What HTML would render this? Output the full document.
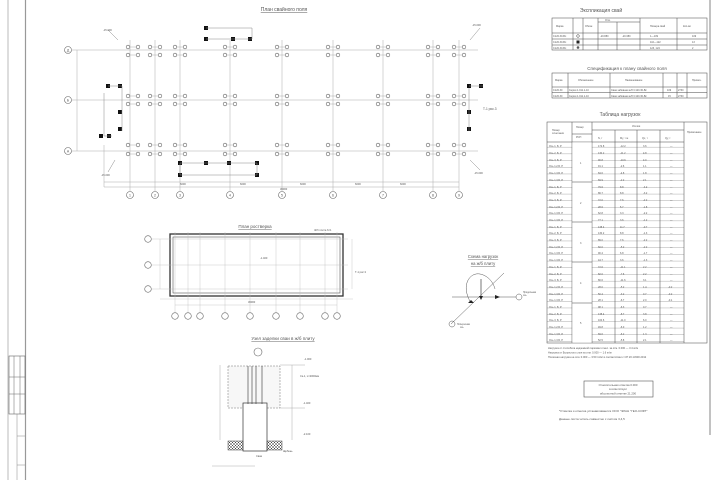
<!DOCTYPE html>
<html><head><meta charset="utf-8"><style>
html,body{margin:0;padding:0;background:#fff;}
svg{display:block;font-family:"Liberation Sans",sans-serif;}
text{fill:#555;}
</style></head><body>
<svg width="720" height="480" viewBox="0 0 720 480" xmlns="http://www.w3.org/2000/svg">
<defs>
<g id="pp"><circle cx="-5" cy="0" r="1.8" fill="none" stroke="#666" stroke-width="0.6"/><circle cx="5" cy="0" r="1.8" fill="none" stroke="#666" stroke-width="0.6"/><line x1="-3" y1="0" x2="3" y2="0" stroke="#999" stroke-width="0.4"/></g>
<pattern id="rows" width="10" height="6.7" patternUnits="userSpaceOnUse"><line x1="0" y1="6.7" x2="10" y2="6.7" stroke="#555" stroke-width="0.5"/></pattern>
<pattern id="hatch" width="3" height="3" patternUnits="userSpaceOnUse"><path d="M0 3L3 0M0 0L3 3" stroke="#444" stroke-width="0.5"/></pattern>
</defs>
<rect width="720" height="480" fill="#fff"/>
<!-- frame -->
<line x1="8" y1="0" x2="8" y2="480" stroke="#bbb" stroke-width="1"/>
<line x1="25.5" y1="0" x2="25.5" y2="480" stroke="#999" stroke-width="1.2"/>
<line x1="710" y1="0" x2="710" y2="435" stroke="#999" stroke-width="1.2"/>
<rect x="9" y="356" width="16" height="58" fill="none" stroke="#666" stroke-width="0.6"/>
<line x1="14" y1="356" x2="14" y2="414" stroke="#666" stroke-width="0.5"/><line x1="20" y1="356" x2="20" y2="414" stroke="#666" stroke-width="0.5"/>
<line x1="9" y1="377" x2="25" y2="377" stroke="#666" stroke-width="0.5"/><line x1="9" y1="394" x2="25" y2="394" stroke="#666" stroke-width="0.5"/>
<line x1="17" y1="414" x2="17" y2="480" stroke="#888" stroke-width="0.5"/>
<line x1="17" y1="436" x2="25" y2="436" stroke="#888" stroke-width="0.5"/><line x1="17" y1="465" x2="25" y2="465" stroke="#888" stroke-width="0.5"/>

<!-- PILE FIELD PLAN -->
<text x="284" y="11" font-size="5" text-anchor="middle" text-decoration="underline">План свайного поля</text>
<g stroke="#aaa" stroke-width="0.5">
<line x1="72" y1="50" x2="478" y2="50"/><line x1="72" y1="100" x2="478" y2="100"/><line x1="72" y1="151" x2="478" y2="151"/>
<line x1="130" y1="40" x2="130" y2="191"/><line x1="155" y1="40" x2="155" y2="191"/><line x1="180" y1="40" x2="180" y2="191"/><line x1="230" y1="40" x2="230" y2="191"/><line x1="282" y1="40" x2="282" y2="191"/><line x1="333" y1="40" x2="333" y2="191"/><line x1="383" y1="40" x2="383" y2="191"/><line x1="433" y1="40" x2="433" y2="191"/><line x1="459" y1="40" x2="459" y2="191"/>
<line x1="77" y1="50" x2="77" y2="151"/><line x1="104" y1="182" x2="459" y2="182"/><line x1="104" y1="187" x2="459" y2="187"/>
<line x1="104" y1="145" x2="104" y2="187"/>
</g>
<g fill="none" stroke="#666" stroke-width="0.6">
<circle cx="68" cy="50" r="3.5"/><circle cx="68" cy="100" r="3.5"/><circle cx="68" cy="151" r="3.5"/>
<circle cx="130" cy="195" r="3.5"/><circle cx="155" cy="195" r="3.5"/><circle cx="180" cy="195" r="3.5"/><circle cx="230" cy="195" r="3.5"/><circle cx="282" cy="195" r="3.5"/><circle cx="333" cy="195" r="3.5"/><circle cx="383" cy="195" r="3.5"/><circle cx="433" cy="195" r="3.5"/><circle cx="459" cy="195" r="3.5"/>
</g>
<g font-size="3.5" text-anchor="middle">
<text x="68" y="51.5">Д</text><text x="68" y="101.5">Б</text><text x="68" y="152.5">А</text>
<text x="130" y="196.5">1</text><text x="155" y="196.5">2</text><text x="180" y="196.5">3</text><text x="230" y="196.5">4</text><text x="282" y="196.5">5</text><text x="333" y="196.5">6</text><text x="383" y="196.5">7</text><text x="433" y="196.5">8</text><text x="459" y="196.5">9</text>
</g>
<g>
<use href="#pp" x="133" y="47"/><use href="#pp" x="133" y="55"/><use href="#pp" x="155" y="47"/><use href="#pp" x="155" y="55"/><use href="#pp" x="180" y="47"/><use href="#pp" x="180" y="55"/><use href="#pp" x="230" y="47"/><use href="#pp" x="230" y="55"/><use href="#pp" x="282" y="47"/><use href="#pp" x="282" y="55"/><use href="#pp" x="333" y="47"/><use href="#pp" x="333" y="55"/><use href="#pp" x="383" y="47"/><use href="#pp" x="383" y="55"/><use href="#pp" x="433" y="47"/><use href="#pp" x="433" y="55"/><use href="#pp" x="459" y="47"/><use href="#pp" x="459" y="55"/>
<use href="#pp" x="133" y="96"/><use href="#pp" x="133" y="104"/><use href="#pp" x="155" y="96"/><use href="#pp" x="155" y="104"/><use href="#pp" x="180" y="96"/><use href="#pp" x="180" y="104"/><use href="#pp" x="230" y="96"/><use href="#pp" x="230" y="104"/><use href="#pp" x="282" y="96"/><use href="#pp" x="282" y="104"/><use href="#pp" x="333" y="96"/><use href="#pp" x="333" y="104"/><use href="#pp" x="383" y="96"/><use href="#pp" x="383" y="104"/><use href="#pp" x="433" y="96"/><use href="#pp" x="433" y="104"/><use href="#pp" x="459" y="96"/><use href="#pp" x="459" y="104"/>
<use href="#pp" x="133" y="145"/><use href="#pp" x="133" y="154"/><use href="#pp" x="155" y="145"/><use href="#pp" x="155" y="154"/><use href="#pp" x="180" y="145"/><use href="#pp" x="180" y="154"/><use href="#pp" x="230" y="145"/><use href="#pp" x="230" y="154"/><use href="#pp" x="282" y="145"/><use href="#pp" x="282" y="154"/><use href="#pp" x="333" y="145"/><use href="#pp" x="333" y="154"/><use href="#pp" x="383" y="145"/><use href="#pp" x="383" y="154"/><use href="#pp" x="433" y="145"/><use href="#pp" x="433" y="154"/><use href="#pp" x="459" y="145"/><use href="#pp" x="459" y="154"/>
</g>
<g fill="#111">
<rect x="204" y="26" width="4" height="4"/><rect x="204" y="37" width="4" height="4"/><rect x="231" y="37" width="4" height="4"/><rect x="248" y="37" width="4" height="4"/>
<rect x="106" y="84" width="4" height="4"/><rect x="118" y="84" width="4" height="4"/><rect x="118" y="110" width="4" height="4"/><rect x="118" y="127" width="4" height="4"/><rect x="99" y="134" width="4" height="4"/><rect x="107" y="134" width="4" height="4"/>
<rect x="178" y="161" width="4" height="4"/><rect x="204" y="161" width="4" height="4"/><rect x="227" y="161" width="4" height="4"/><rect x="255" y="161" width="4" height="4"/><rect x="178" y="173" width="4" height="4"/><rect x="255" y="173" width="4" height="4"/>
<rect x="467" y="84" width="4" height="4"/><rect x="479" y="84" width="4" height="4"/><rect x="467" y="110" width="4" height="4"/><rect x="467" y="127" width="4" height="4"/>
</g>
<g stroke="#888" stroke-width="0.5" fill="none">
<path d="M206 28H252V39M206 39H252"/><path d="M108 86H122V131M104 93V136H112"/><path d="M180 163H257V175H180Z"/><path d="M469 86H483M469 88V131"/>
<path d="M118 40L108 30M470 40L480 28M115 160L108 172M470 160L480 170"/>
</g>
<g font-size="2.6" fill="#666">
<text x="103" y="31">-15.000</text><text x="472" y="26">-15.000</text><text x="101" y="176">-15.000</text><text x="474" y="174">-15.000</text>
<text x="180" y="185">6000</text><text x="240" y="185">6000</text><text x="300" y="185">6000</text><text x="355" y="185">6000</text><text x="400" y="185">6000</text><text x="280" y="190">36000</text>
<text x="483" y="110" font-size="3.2">Т-1 рис.3</text>
</g>

<!-- ROSTVERK PLAN -->
<text x="255" y="228" font-size="4.5" text-anchor="middle" text-decoration="underline">План ростверка</text>
<rect x="170" y="234" width="173" height="62" fill="none" stroke="#333" stroke-width="1.3"/>
<rect x="173" y="237" width="167" height="56" fill="none" stroke="#555" stroke-width="0.6"/>
<g stroke="#bbb" stroke-width="0.4">
<line x1="152" y1="239" x2="348" y2="239"/><line x1="152" y1="265" x2="348" y2="265"/><line x1="152" y1="289" x2="348" y2="289"/>
<line x1="175" y1="232" x2="175" y2="312"/><line x1="188" y1="232" x2="188" y2="312"/><line x1="200" y1="232" x2="200" y2="312"/><line x1="225" y1="232" x2="225" y2="312"/><line x1="250" y1="232" x2="250" y2="312"/><line x1="276" y1="232" x2="276" y2="312"/><line x1="300" y1="232" x2="300" y2="312"/><line x1="325" y1="232" x2="325" y2="312"/><line x1="337" y1="232" x2="337" y2="312"/>
<line x1="160" y1="299" x2="353" y2="299"/><line x1="175" y1="305" x2="337" y2="305"/><line x1="160" y1="239" x2="160" y2="289"/><line x1="352" y1="239" x2="352" y2="289"/>
</g>
<g fill="none" stroke="#666" stroke-width="0.6">
<circle cx="148" cy="239" r="3.3"/><circle cx="148" cy="265" r="3.3"/><circle cx="148" cy="289" r="3.3"/>
<circle cx="175" cy="316" r="3.3"/><circle cx="188" cy="316" r="3.3"/><circle cx="200" cy="316" r="3.3"/><circle cx="225" cy="316" r="3.3"/><circle cx="250" cy="316" r="3.3"/><circle cx="276" cy="316" r="3.3"/><circle cx="300" cy="316" r="3.3"/><circle cx="325" cy="316" r="3.3"/><circle cx="337" cy="316" r="3.3"/>
</g>
<g font-size="2.6" fill="#666">
<text x="260" y="259">-1.400</text><text x="314" y="231">Ж/б плита δ=1</text><text x="355" y="273">Т-1 рис.3</text><text x="248" y="303">36000</text>
</g>

<!-- NODE -->
<text x="283" y="340" font-size="4.5" text-anchor="middle" text-decoration="underline">Узел заделки сваи в ж/б плиту</text>
<circle cx="258" cy="352" r="4" fill="none" stroke="#666" stroke-width="0.6"/>
<rect x="228" y="366" width="52" height="42" fill="#f7f7f7" stroke="#777" stroke-width="0.5" stroke-dasharray="2 1"/>
<rect x="243" y="403" width="24" height="48" fill="#fff" stroke="#333" stroke-width="0.7"/>
<line x1="248" y1="366" x2="248" y2="404" stroke="#333" stroke-width="0.6"/><line x1="252" y1="366" x2="252" y2="404" stroke="#333" stroke-width="0.6"/><line x1="256" y1="366" x2="256" y2="404" stroke="#333" stroke-width="0.6"/><line x1="262" y1="366" x2="262" y2="404" stroke="#333" stroke-width="0.6"/>
<rect x="228" y="441" width="15" height="9" fill="url(#hatch)" stroke="#444" stroke-width="0.5"/>
<rect x="267" y="441" width="15" height="9" fill="url(#hatch)" stroke="#444" stroke-width="0.5"/>
<g stroke="#999" stroke-width="0.4"><line x1="220" y1="365" x2="220" y2="440"/><line x1="292" y1="365" x2="292" y2="440"/><line x1="212" y1="466" x2="255" y2="466"/><line x1="280" y1="365" x2="305" y2="365"/><line x1="280" y1="408" x2="305" y2="408"/></g>
<g font-size="2.6" fill="#666"><text x="304" y="360">-1.000</text><text x="300" y="377">Ск-1, L=2000мм</text><text x="303" y="404">-1.400</text><text x="303" y="435">-2.100</text><text x="283" y="452">Щебень</text><text x="256" y="457">Свая</text></g>

<!-- LOAD SCHEME -->
<text x="483" y="258" font-size="4.2" text-anchor="middle" text-decoration="underline">Схема нагрузок</text>
<text x="483" y="265" font-size="4.2" text-anchor="middle" text-decoration="underline">на ж/б плиту</text>
<g stroke="#555" stroke-width="0.5" fill="none">
<line x1="452" y1="297" x2="516" y2="297"/><line x1="451" y1="324" x2="504" y2="273"/>
<path d="M471 303C460 285 470 272 480 274C490 276 494 285 495 289"/>
<line x1="481" y1="279" x2="481" y2="299" stroke-width="0.8"/>
<circle cx="519" cy="297" r="3"/><circle cx="452" cy="324" r="3"/>
</g>
<path d="M479 296L483 296L481 300Z M495 295L500 297L495 299Z M471 300L468 303L474 303Z" fill="#222"/>
<g font-size="2.3" fill="#666"><text x="523" y="293">Продольная</text><text x="523" y="296">ось</text><text x="457" y="325">Поперечная</text><text x="460" y="328">ось</text></g>

<!-- RIGHT TABLES -->
<text x="601" y="12" font-size="5" text-anchor="middle">Экспликация свай</text>
<g stroke="#444" stroke-width="0.5" fill="none">
<rect x="552" y="18" width="155" height="32"/>
<line x1="552" y1="33" x2="707" y2="33"/><line x1="552" y1="39" x2="707" y2="39"/><line x1="552" y1="45" x2="707" y2="45"/>
<line x1="573" y1="18" x2="573" y2="50"/><line x1="583" y1="18" x2="583" y2="50"/><line x1="598" y1="18" x2="598" y2="50"/><line x1="617" y1="22" x2="617" y2="50"/><line x1="640" y1="18" x2="640" y2="50"/><line x1="677" y1="18" x2="677" y2="50"/><line x1="598" y1="22" x2="640" y2="22"/>
</g>
<g font-size="2.5" fill="#555"><text x="556" y="27">Марка</text><text x="585" y="27">Обозн</text><text x="605" y="21">Отм.</text><text x="650" y="27">Номера свай</text><text x="683" y="27">Кол-во</text>
<text x="553" y="37">С120.30-Вс</text><text x="600" y="37">-20.880</text><text x="622" y="37">-20.380</text><text x="650" y="37">1—109</text><text x="692" y="37">109</text>
<text x="553" y="43">С120.30-Вс</text><text x="650" y="43">110—122</text><text x="692" y="43">13</text>
<text x="553" y="49">С120.30-Вс</text><text x="650" y="49">123, 124</text><text x="692" y="49">2</text></g>
<circle cx="578" cy="36" r="1.3" fill="none" stroke="#333" stroke-width="0.5"/><rect x="576.5" y="40.5" width="3" height="3" fill="#222"/><circle cx="578" cy="47.5" r="1.3" fill="#555"/>

<text x="627" y="70" font-size="4.5" text-anchor="middle">Спецификация к плану свайного поля</text>
<g stroke="#444" stroke-width="0.5" fill="none">
<rect x="552" y="73" width="155" height="25"/><line x1="552" y1="87" x2="707" y2="87"/><line x1="552" y1="92.5" x2="707" y2="92.5"/>
<line x1="568" y1="73" x2="568" y2="98"/><line x1="610" y1="73" x2="610" y2="98"/><line x1="663" y1="73" x2="663" y2="98"/><line x1="677" y1="73" x2="677" y2="98"/><line x1="687" y1="73" x2="687" y2="98"/>
</g>
<g font-size="2.5" fill="#555"><text x="555" y="81">Марка</text><text x="578" y="81">Обозначение</text><text x="625" y="81">Наименование</text><text x="692" y="81">Примеч.</text>
<text x="553" y="91">С120.30</text><text x="569" y="91">Серия 1.011.1-10</text><text x="611" y="91">Свая забивная ж/б С120.30-Вс</text><text x="667" y="91">109</text><text x="678" y="91">2730</text>
<text x="553" y="97">С120.30</text><text x="569" y="97">Серия 1.011.1-10</text><text x="611" y="97">Свая забивная ж/б С120.30-Вс</text><text x="668" y="97">15</text><text x="678" y="97">2730</text></g>

<text x="620" y="116" font-size="5" text-anchor="middle">Таблица нагрузок</text>
<rect x="547" y="142" width="137" height="201" fill="url(#rows)"/>
<g stroke="#444" stroke-width="0.5" fill="none">
<rect x="547" y="122" width="160" height="221"/><line x1="547" y1="142" x2="684" y2="142"/><line x1="592" y1="130" x2="684" y2="130"/><line x1="572" y1="134" x2="592" y2="134"/>
<line x1="572" y1="122" x2="572" y2="343"/><line x1="592" y1="122" x2="592" y2="343"/><line x1="615" y1="130" x2="615" y2="343"/><line x1="637" y1="130" x2="637" y2="343"/><line x1="660" y1="130" x2="660" y2="343"/><line x1="684" y1="122" x2="684" y2="343"/>
</g>
<rect x="572.3" y="142.3" width="19.4" height="200.4" fill="#fff"/>
<g stroke="#444" stroke-width="0.5"><line x1="572" y1="182" x2="592" y2="182"/><line x1="572" y1="222" x2="592" y2="222"/><line x1="572" y1="262" x2="592" y2="262"/><line x1="572" y1="303" x2="592" y2="303"/></g>
<g font-size="2.5" fill="#555"><text x="552" y="131">Номер</text><text x="552" y="134">сочетания</text><text x="576" y="128">Номер</text><text x="576" y="138">РСН</text><text x="632" y="127">Усилия</text><text x="687" y="133">Примечание</text>
<text x="598" y="139">N, т</text><text x="620" y="139">My, т·м</text><text x="642" y="139">Qx, т</text><text x="665" y="139">Qy, т</text>
<text x="580" y="164">1</text><text x="580" y="204">2</text><text x="580" y="244">3</text><text x="580" y="284">4</text><text x="580" y="324">5</text>
<text x="549" y="147">Ось 1, Б, Р</text><text x="549" y="154">Ось 2, Б, Р</text><text x="549" y="161">Ось 3, Б, Р</text><text x="549" y="167">Ось 1,2,Б, Р</text><text x="549" y="174">Ось 1,3,Б, Р</text><text x="549" y="181">Ось 1,3,Б, Р</text>
<text x="549" y="188">Ось 1, Б, Р</text><text x="549" y="194">Ось 2, Б, Р</text><text x="549" y="201">Ось 3, Б, Р</text><text x="549" y="208">Ось 1,2,Б, Р</text><text x="549" y="214">Ось 1,3,Б, Р</text><text x="549" y="221">Ось 1,3,Б, Р</text>
<text x="549" y="228">Ось 1, Б, Р</text><text x="549" y="234">Ось 2, Б, Р</text><text x="549" y="241">Ось 3, Б, Р</text><text x="549" y="248">Ось 1,2,Б, Р</text><text x="549" y="254">Ось 1,3,Б, Р</text><text x="549" y="261">Ось 1,3,Б, Р</text>
<text x="549" y="268">Ось 1, Б, Р</text><text x="549" y="275">Ось 2, Б, Р</text><text x="549" y="281">Ось 3, Б, Р</text><text x="549" y="288">Ось 1,2,Б, Р</text><text x="549" y="295">Ось 1,3,Б, Р</text><text x="549" y="301">Ось 1,3,Б, Р</text>
<text x="549" y="308">Ось 1, Б, Р</text><text x="549" y="315">Ось 2, Б, Р</text><text x="549" y="321">Ось 3, Б, Р</text><text x="549" y="328">Ось 1,2,Б, Р</text><text x="549" y="335">Ось 1,3,Б, Р</text><text x="549" y="341">Ось 1,3,Б, Р</text>
</g>
<g font-size="2.5" fill="#555">
<text x="598" y="147">172.8</text><text x="620" y="147">-12.2</text><text x="643" y="147">3.6</text><text x="670" y="147">—</text>
<text x="598" y="154">130.2</text><text x="620" y="154">-11.2</text><text x="643" y="154">4.8</text><text x="670" y="154">—</text>
<text x="598" y="161">90.8</text><text x="620" y="161">-10.6</text><text x="643" y="161">4.0</text><text x="670" y="161">—</text>
<text x="598" y="167">91.1</text><text x="620" y="167">-2.6</text><text x="643" y="167">1.1</text><text x="670" y="167">—</text>
<text x="598" y="174">84.6</text><text x="620" y="174">-4.8</text><text x="643" y="174">1.8</text><text x="670" y="174">—</text>
<text x="598" y="181">69.9</text><text x="620" y="181">-2.2</text><text x="643" y="181">2.1</text><text x="670" y="181">—</text>
<text x="598" y="188">79.6</text><text x="620" y="188">8.8</text><text x="643" y="188">-4.2</text><text x="670" y="188">—</text>
<text x="598" y="194">86.7</text><text x="620" y="194">8.8</text><text x="643" y="194">-3.2</text><text x="670" y="194">—</text>
<text x="598" y="201">72.0</text><text x="620" y="201">7.6</text><text x="643" y="201">-2.2</text><text x="670" y="201">—</text>
<text x="598" y="208">28.6</text><text x="620" y="208">5.7</text><text x="643" y="208">-1.8</text><text x="670" y="208">—</text>
<text x="598" y="214">62.8</text><text x="620" y="214">3.3</text><text x="643" y="214">-2.2</text><text x="670" y="214">—</text>
<text x="598" y="221">77.1</text><text x="620" y="221">3.6</text><text x="643" y="221">-1.2</text><text x="670" y="221">—</text>
<text x="598" y="228">138.4</text><text x="620" y="228">11.7</text><text x="643" y="228">-0.7</text><text x="670" y="228">—</text>
<text x="598" y="234">130.2</text><text x="620" y="234">8.8</text><text x="643" y="234">-1.3</text><text x="670" y="234">—</text>
<text x="598" y="241">89.0</text><text x="620" y="241">7.6</text><text x="643" y="241">-2.2</text><text x="670" y="241">—</text>
<text x="598" y="248">60.0</text><text x="620" y="248">-5.2</text><text x="643" y="248">-2.2</text><text x="670" y="248">—</text>
<text x="598" y="254">90.4</text><text x="620" y="254">6.8</text><text x="643" y="254">-1.7</text><text x="670" y="254">—</text>
<text x="598" y="261">44.7</text><text x="620" y="261">3.6</text><text x="643" y="261">-1.3</text><text x="670" y="261">—</text>
<text x="598" y="268">72.6</text><text x="620" y="268">-11.1</text><text x="643" y="268">2.2</text><text x="670" y="268">—</text>
<text x="598" y="275">82.0</text><text x="620" y="275">-7.6</text><text x="643" y="275">2.2</text><text x="670" y="275">—</text>
<text x="598" y="281">80.6</text><text x="620" y="281">-11.6</text><text x="643" y="281">3.1</text><text x="670" y="281">—</text>
<text x="598" y="288">28.0</text><text x="620" y="288">-5.2</text><text x="643" y="288">1.4</text><text x="668" y="288">-0.2</text>
<text x="598" y="295">50.4</text><text x="620" y="295">-3.2</text><text x="643" y="295">0.7</text><text x="668" y="295">-0.2</text>
<text x="598" y="301">28.1</text><text x="620" y="301">-6.7</text><text x="643" y="301">2.0</text><text x="668" y="301">-0.1</text>
<text x="598" y="308">98.1</text><text x="620" y="308">-6.3</text><text x="643" y="308">0.7</text><text x="670" y="308">—</text>
<text x="598" y="315">138.4</text><text x="620" y="315">-8.7</text><text x="643" y="315">3.8</text><text x="670" y="315">—</text>
<text x="598" y="321">100.6</text><text x="620" y="321">-11.0</text><text x="643" y="321">6.0</text><text x="670" y="321">—</text>
<text x="598" y="328">49.8</text><text x="620" y="328">-6.0</text><text x="643" y="328">1.2</text><text x="670" y="328">—</text>
<text x="598" y="335">69.6</text><text x="620" y="335">-6.2</text><text x="643" y="335">1.3</text><text x="670" y="335">—</text>
<text x="598" y="341">52.5</text><text x="620" y="341">-5.8</text><text x="643" y="341">2.1</text><text x="670" y="341">—</text>
</g>
<g font-size="2.6" fill="#888">
<text x="548" y="349">Нагрузка от стилобата надземной парковки отнес. за отм. 0.000 — 3.4 кг/м</text>
<text x="548" y="353.5">Нагрузка от Бугристого слоя за отм. 0.000 — 1.6 кг/м</text>
<text x="548" y="358">Полезная нагрузка на отм. 0.000 — 3.50 тс/м² в соответствии с СП 20.13330.2012</text>
</g>
<rect x="584" y="381" width="69" height="16" fill="none" stroke="#555" stroke-width="0.6"/>
<g font-size="2.8" fill="#555" text-anchor="middle"><text x="618" y="386">Относительная отметка 0.000</text><text x="618" y="390">соответствует</text><text x="618" y="394.5">абсолютной отметке 21.200</text></g>
<g font-size="3" fill="#555"><text x="559" y="412">*Отметка и отметка устанавливаются ООО "ЭЛАН "ГЕО-СОФТ"</text><text x="559" y="420">Данные листа читать совместно с листом 3,4,5</text></g>
</svg>
</body></html>
